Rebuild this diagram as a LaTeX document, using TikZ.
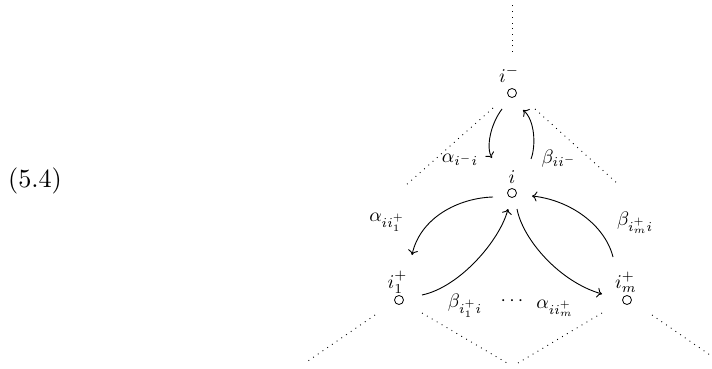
\documentclass[tikz,border=0pt]{standalone}
\usetikzlibrary{arrows.meta}
\begin{document}
\begin{tikzpicture}[x=1pt,y=-1pt,
  vert/.style={circle,draw,inner sep=0pt,minimum size=9pt,line width=0.8pt},
  lab/.style={anchor=base,inner sep=0pt,scale=1.95,transform shape},
  arr/.style={line width=0.9pt,-{Computer Modern Rightarrow[length=5pt,width=10pt,line width=0.9pt]}},
  dotline/.style={line width=0.9pt,dash pattern=on 0.9pt off 4.8pt}]
\useasboundingbox (0,0) rectangle (712,369);
\node[inner sep=0pt,scale=2.62,transform shape] (eq) at (35,181) {(5.4)};
% vertices
\node[vert] (im) at (512,93) {};
\node[vert] (ii) at (512,193) {};
\node[vert] (a) at (399,300) {};
\node[vert] (b) at (627,300) {};
% vertex labels
\node[lab] (lim) at (509,82) {$i^-$};
\node[lab] (li) at (512,183) {$i$};
\node[lab] (la) at (397.5,288) {$i_1^+$};
\node[lab] (lb) at (626,288) {$i_m^+$};
% arrow labels
\node[lab] (l1) at (460,162) {$\alpha_{i^-i}$};
\node[lab] (l2) at (559,163) {$\beta_{ii^-}$};
\node[lab] (l3) at (387,221) {$\alpha_{ii_1^+}$};
\node[lab] (l4) at (635,225) {$\beta_{i_m^+i}$};
\node[lab] (l5) at (465,307) {$\beta_{i_1^+i}$};
\node[lab] (dots) at (512,305) {$\cdots$};
\node[lab] (l6) at (555,308) {$\alpha_{ii_m^+}$};
% arrows
\draw[arr] ([shift={(-10,16)}]im.center) .. controls +(-12,16) and +(-6,-10) .. ([shift={(-20,-35)}]ii.center);
\draw[arr] ([shift={(19,-34)}]ii.center) .. controls +(5,-13) and +(12,10) .. ([shift={(11,17)}]im.center);
\draw[arr] ([shift={(-19,4)}]ii.center) .. controls +(-35,1) and +(8,-37) .. ([shift={(13,-45)}]a.center);
\draw[arr] ([shift={(-14,-43)}]b.center) .. controls +(-8,-32) and +(38,4) .. ([shift={(20,3)}]ii.center);
\draw[arr] ([shift={(23,-5)}]a.center) .. controls +(38,-8) and +(-8,31) .. ([shift={(-4,16)}]ii.center);
\draw[arr] ([shift={(5,16)}]ii.center) .. controls +(6,31) and +(-42,-12) .. ([shift={(-25,-6)}]b.center);
% dotted lines
\draw[dotline] ([shift={(0,-41)}]im.center) -- ++(0,-47);
\draw[dotline] ([shift={(-19,15)}]im.center) -- ++(-88,78);
\draw[dotline] ([shift={(23,16)}]im.center) -- ++(84,76);
\draw[dotline] ([shift={(-24,15)}]a.center) -- ++(-70,48);
\draw[dotline] ([shift={(23,13)}]a.center) -- ++(85,50);
\draw[dotline] ([shift={(-25,13)}]b.center) -- ++(-84,50);
\draw[dotline] ([shift={(25,15)}]b.center) -- ++(58,40);
\end{tikzpicture}
\end{document}
